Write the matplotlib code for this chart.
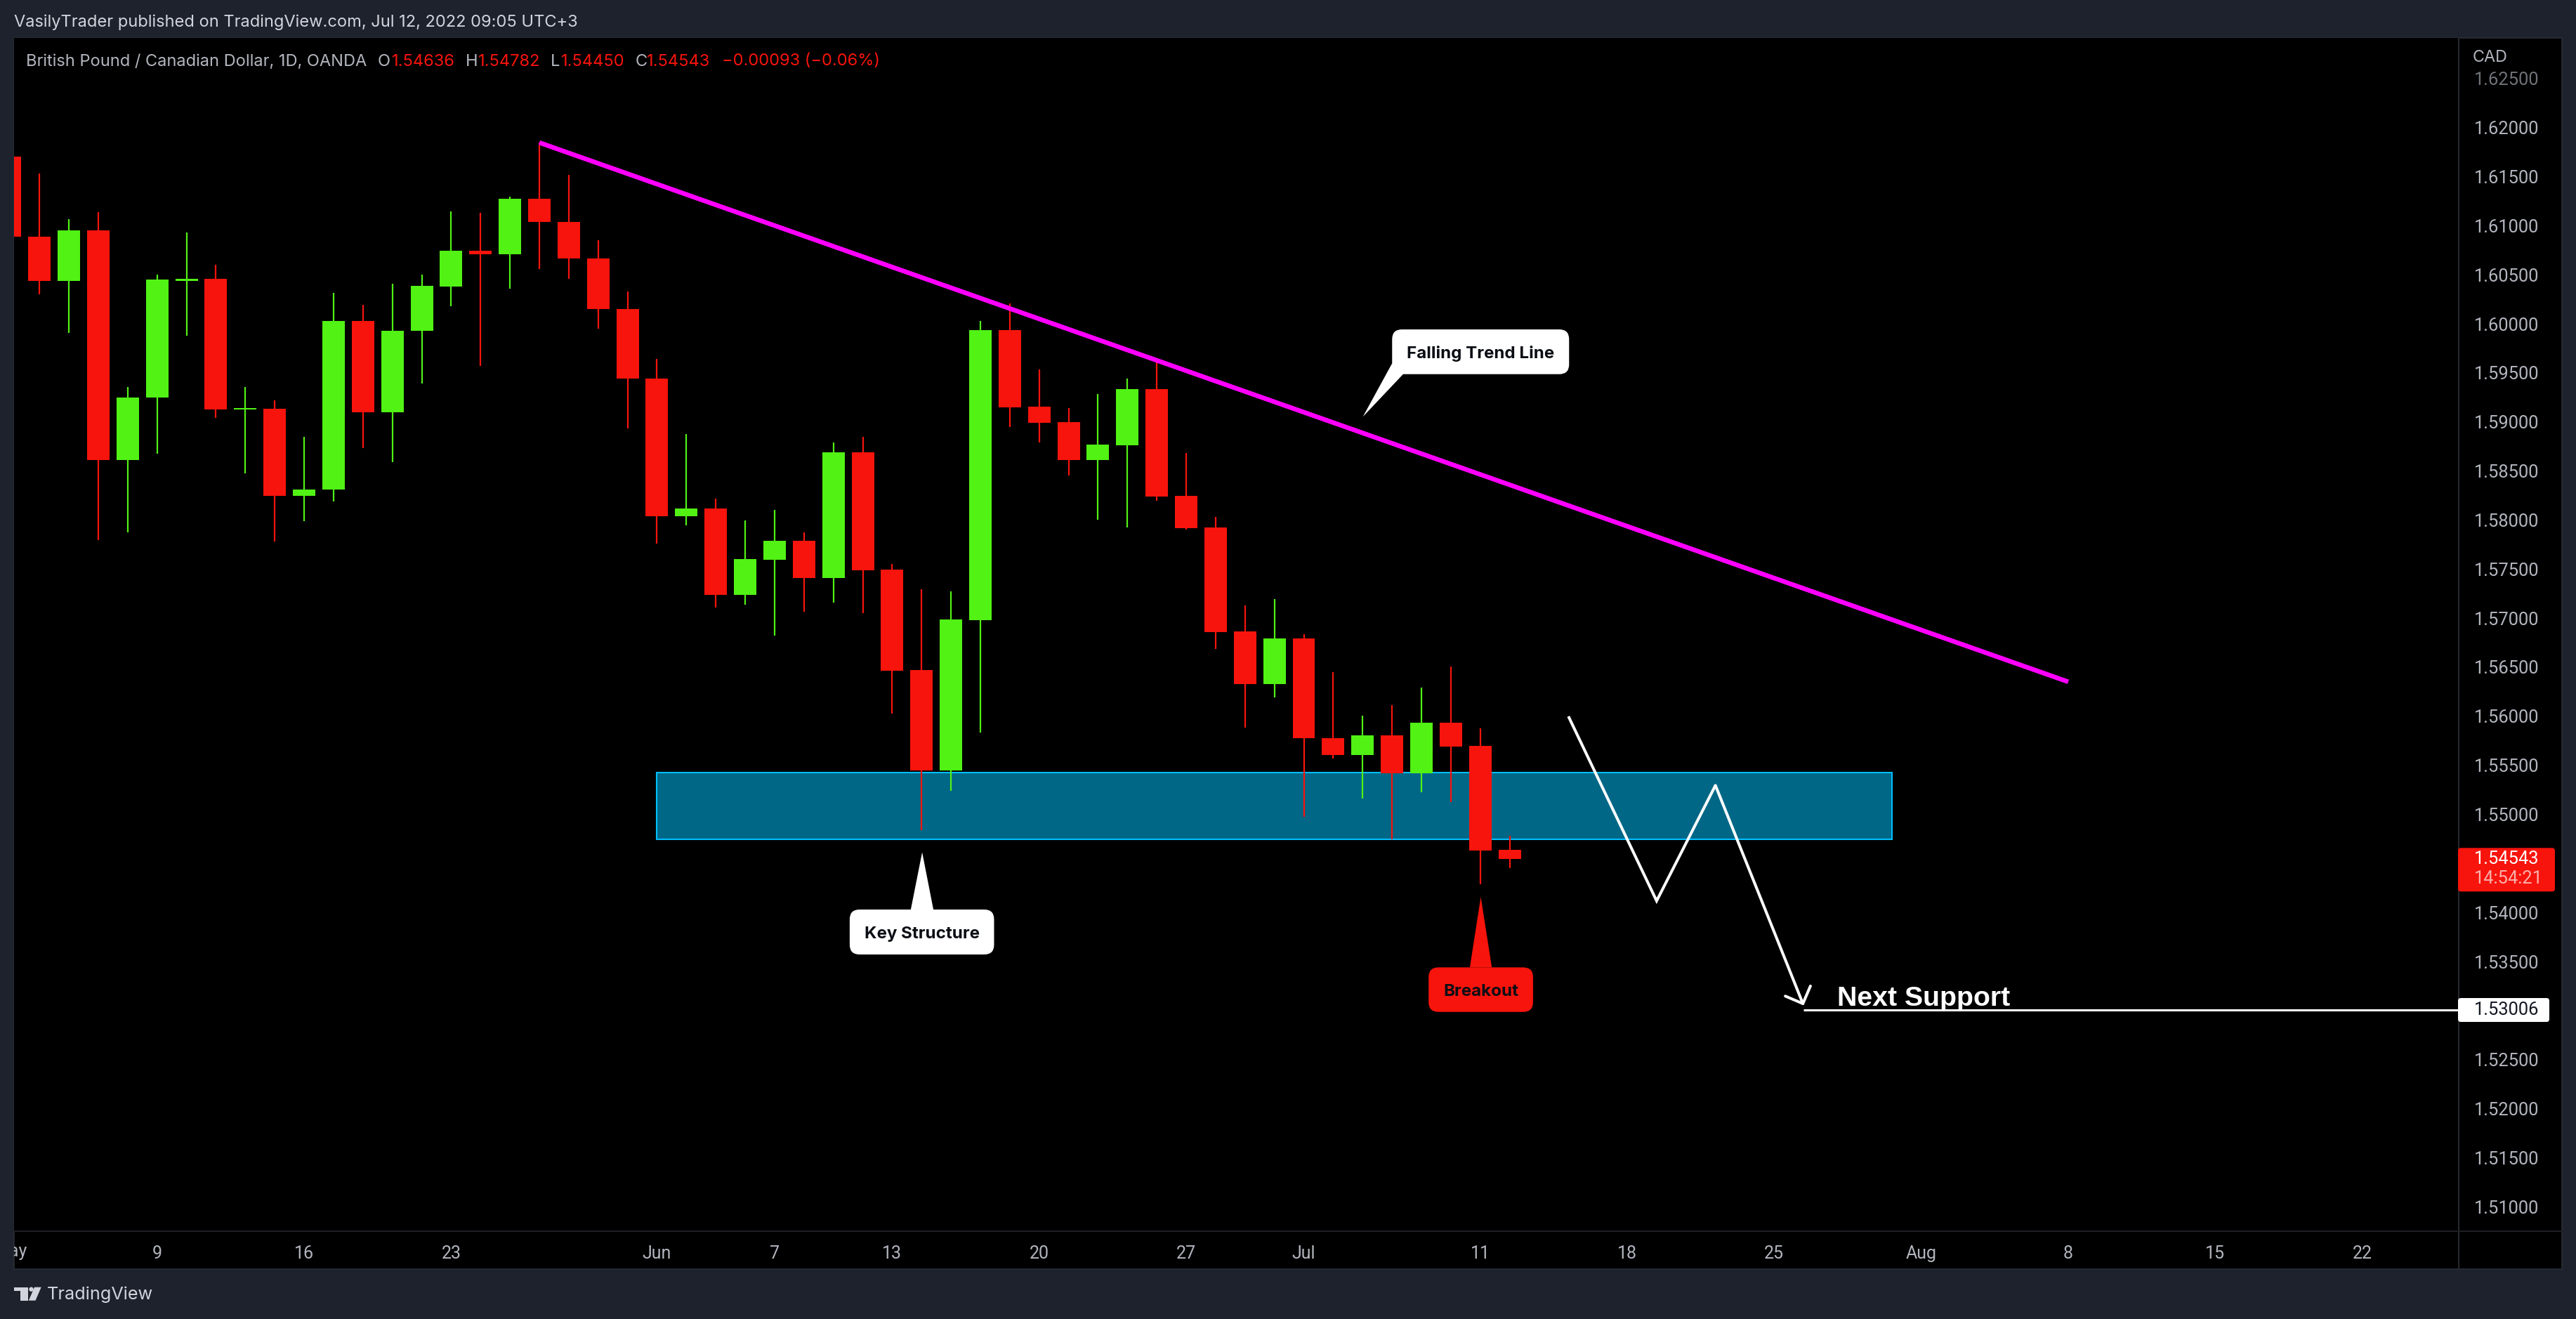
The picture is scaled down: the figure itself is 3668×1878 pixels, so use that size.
import matplotlib
matplotlib.use("Agg")
import matplotlib.pyplot as plt
import numpy as np
from matplotlib.patches import Rectangle, FancyBboxPatch, Polygon, Circle
from matplotlib.transforms import IdentityTransform, Bbox, TransformedBbox

W, H = 3668, 1878
FONT = ["Inter", "Roboto", "DejaVu Sans"]
NUM = ["Roboto", "DejaVu Sans"]
plt.rcParams["font.family"] = FONT

opens = [1.61704,1.60886,1.60440,1.60952,1.58615,1.59250,1.60440,1.60459,1.59126,1.59133,
         1.58249,1.58308,1.60028,1.59100,1.59926,1.60378,1.60744,1.60711,1.61273,1.61039,
         1.60667,1.60152,1.59443,1.58039,1.58117,1.57237,1.57595,1.57788,1.57409,1.58690,
         1.57495,1.56471,1.55448,1.56980,1.59936,1.59156,1.58998,1.58612,1.58762,1.59335,
         1.58247,1.57925,1.56864,1.56330,1.56793,1.55777,1.55608,1.55806,1.55416,1.55934,
         1.55697,1.54636]
highs = [1.61750,1.61532,1.61065,1.61138,1.59356,1.60503,1.60930,1.60601,1.59356,1.59221,
         1.58845,1.60316,1.60192,1.60408,1.60503,1.61145,1.61131,1.61295,1.61847,1.61518,
         1.60853,1.60331,1.59641,1.58876,1.58218,1.57996,1.58103,1.57874,1.58790,1.58848,
         1.57552,1.57294,1.57273,1.60029,1.60208,1.59535,1.59141,1.59285,1.59442,1.59614,
         1.58683,1.58032,1.57129,1.57193,1.56835,1.56448,1.56004,1.56113,1.56291,1.56506,
         1.55876,1.54782]
lows = [1.60750,1.60302,1.59904,1.57793,1.57877,1.58673,1.59882,1.59038,1.58472,1.57778,
        1.57986,1.58187,1.58731,1.58593,1.59389,1.60181,1.59568,1.60360,1.60561,1.60455,
        1.59947,1.58936,1.57760,1.57946,1.57108,1.57137,1.56822,1.57065,1.57158,1.57051,
        1.56027,1.54837,1.55237,1.55834,1.58948,1.58791,1.58454,1.58003,1.57925,1.58197,
        1.57903,1.56688,1.55886,1.56192,1.54978,1.55569,1.55163,1.54748,1.55227,1.55125,
        1.54291,1.54450]
closes = [1.60886,1.60440,1.60952,1.58615,1.59250,1.60451,1.60460,1.59129,1.59140,1.58249,
          1.58311,1.60028,1.59100,1.59929,1.60386,1.60744,1.60711,1.61273,1.61036,1.60663,
          1.60148,1.59440,1.58041,1.58117,1.57237,1.57602,1.57788,1.57409,1.58690,1.57488,
          1.56464,1.55448,1.56986,1.59936,1.59149,1.58991,1.58612,1.58769,1.59335,1.58239,
          1.57917,1.56857,1.56330,1.56793,1.55774,1.55608,1.55806,1.55416,1.55934,1.55691,
          1.54633,1.54543]

x_tick_pos = [0, 5, 10, 15, 22, 26, 30, 35, 40, 44, 50, 55, 60, 65, 70, 75, 80]
x_tick_labels = ["May","9","16","23","Jun","7","13","20","27","Jul","11","18","25","Aug","8","15","22"]
y_ticks = [1.625,1.62,1.615,1.61,1.605,1.60,1.595,1.59,1.585,1.58,1.575,1.57,1.565,1.56,1.555,
           1.55,1.54,1.535,1.525,1.52,1.515,1.51]

trend_x = [18, 70]
trend_y = [1.61847, 1.56351]
zone_x = [22, 64]
zone_y = [1.54748, 1.55426]
path_x = [53, 56, 58]
path_y = [1.55999, 1.54118, 1.55295]
arrow_tip = (61, 1.53052)
support_x0 = 61
support_price = 1.53006
last_price = 1.54543

RED = "#F7140C"
GREEN = "#51F214"
BG = "#1E222D"
EDGE = "#2A2E39"
TXT = "#B2B5BE"
PT = 0.72  # points per pixel at dpi 100
XLIM = (0.1338, 83.28)
YLIM = (1.50754, 1.62914)

fig = plt.figure(figsize=(W/100, H/100), dpi=100, facecolor=BG)

def pxt(x, y):
    return x/W, 1 - y/H

def ftext(x, y, s, **kw):
    kw.setdefault("va", "center")
    kw.setdefault("ha", "left")
    fx, fy = pxt(x, y)
    return fig.text(fx, fy, s, **kw)

# chart panel
fig.add_artist(Rectangle((20/W, 1-1807/H), (3648-20)/W, (1807-54)/H, transform=fig.transFigure,
                         facecolor="black", edgecolor=EDGE, linewidth=1.2, zorder=-5))

L, T, R, B = 20, 54, 3501, 1752.6
ax = fig.add_axes([L/W, 1-B/H, (R-L)/W, (B-T)/H], facecolor="black", zorder=0)
for s in ax.spines.values():
    s.set_visible(False)

idx = np.arange(len(opens))
opens_a, closes_a, highs_a, lows_a = map(np.array, (opens, closes, highs, lows))

# zone
ax.add_patch(Rectangle((zone_x[0], zone_y[0]), zone_x[1]-zone_x[0], zone_y[1]-zone_y[0],
                       facecolor="#006786", edgecolor="#00BFFF", linewidth=1.5, zorder=1))

colors = [GREEN if c >= o else RED for o, c in zip(opens, closes)]
ax.vlines(idx, lows_a, highs_a, colors=colors, linewidth=2.0*PT*1.1, zorder=2)
ax.bar(idx, np.abs(closes_a-opens_a), bottom=np.minimum(opens_a, closes_a), width=0.764,
       color=colors, linewidth=0, zorder=3)

# drawings
ax.plot(trend_x, trend_y, color="#FF00FF", linewidth=6.6*PT, solid_capstyle="butt", zorder=4)
ax.plot(path_x, path_y, color="white", linewidth=4*PT, solid_joinstyle="miter", solid_capstyle="butt", zorder=4)
ax.annotate("", xy=arrow_tip, xytext=(path_x[-1], path_y[-1]),
            arrowprops=dict(arrowstyle="->,head_length=%g,head_width=%g" % (19.3*PT, 19.3*PT),
                            color="white", lw=4*PT, shrinkA=0, shrinkB=0, mutation_scale=1), zorder=4)
ax.plot([support_x0, XLIM[1]], [support_price]*2, color="white", linewidth=3*PT,
        solid_capstyle="butt", zorder=4)
ax.text(62.15, 1.5305, "Next Support", color="white", fontsize=28.3, fontweight="bold",
        family=["Liberation Sans"], va="baseline", ha="left", zorder=5)

# axes ticks (the first date tick sits left of the view, so it is drawn separately and clipped)
ax.set_xticks(x_tick_pos[1:], x_tick_labels[1:])
ax.set_yticks(y_ticks, ["%.5f" % v for v in y_ticks])
ax.yaxis.tick_right()
ax.set_xlim(*XLIM)
ax.set_ylim(*YLIM)
ax.tick_params(axis="x", length=0, pad=15, labelsize=18, labelcolor=TXT, labelfontfamily="Roboto")
ax.tick_params(axis="y", length=0, pad=15.6, labelsize=18.4, labelcolor=TXT, labelfontfamily="Roboto")
ax.get_yticklabels()[0].set_color("#6F7278")
clip = TransformedBbox(Bbox([[20, 0], [3501, H]]), IdentityTransform())
first = ax.text(x_tick_pos[0], -(1782-B)/(B-T), x_tick_labels[0], transform=ax.get_xaxis_transform(),
                color=TXT, fontsize=18, family=NUM, ha="center", va="center")
first.set_clip_path(None)
first.set_clip_box(clip)
first.set_clip_on(True)

# separators
fig.add_artist(plt.Line2D([R/W, R/W], [1-1807/H, 1-54/H], color="#25282F", lw=1.5, zorder=5))
fig.add_artist(plt.Line2D([20/W, 3648/W], [1-B/H, 1-B/H], color="#1E1F24", lw=1.5, zorder=5))

idt = IdentityTransform()

def data_px(x, y):
    return ax.transData.transform((x, y))

def callout(tip, box, base, text, face, fsize=17.4):
    """tip is in data units; box (x0,y0,x1,y1) and base points are pixel offsets from the tip (y down)."""
    tx, ty = data_px(*tip)
    x0, y0, x1, y1 = box
    fig.add_artist(FancyBboxPatch((tx+x0+14, ty-y1+14), (x1-x0)-28, (y1-y0)-28,
                                  boxstyle="round,pad=14,rounding_size=14", facecolor=face,
                                  edgecolor="none", transform=idt, zorder=6))
    fig.add_artist(Polygon([(tx, ty)] + [(tx+a, ty-b) for a, b in base], closed=True, facecolor=face,
                           edgecolor="none", transform=idt, zorder=6))
    fig.text((tx+(x0+x1)/2)/W, (ty-(y0+y1)/2)/H, text, color="#0B0E14", fontsize=fsize, fontweight="bold",
             ha="center", va="center_baseline", zorder=7)

callout((46.01, 1.59053), (41.6, -124.3, 293.6, -60.6), [(41.6, -76), (57.3, -60.6)], "Falling Trend Line", "white")
callout((31.02, 1.54614), (-103.2, 81.6, 102.4, 145.6), [(-16.2, 81.6), (16, 81.6)], "Key Structure", "white")
callout((50.02, 1.54159), (-74.3, 100.4, 74.4, 163.8), [(-15.6, 100.4), (15.7, 100.4)], "Breakout", RED)

# price tags
def price_tag(y_center, h_top, h_bot, x1, color):
    fig.add_artist(FancyBboxPatch((3500+4, y_center-h_bot+4), x1-3500-8, h_top+h_bot-8,
                                  boxstyle="round,pad=4,rounding_size=4", facecolor=color,
                                  edgecolor="none", transform=idt, zorder=6))

_, yl = data_px(0, last_price)
price_tag(yl, 16, 46, 3638, RED)
fig.text(3522.7/W, yl/H, "%.5f" % last_price, color="white", fontsize=18.4, va="center", zorder=7, family=NUM)
fig.text(3522.7/W, (yl-27.5)/H, "14:54:21", color="#FBB0AC", fontsize=18.4, va="center", zorder=7, family=NUM)
_, ys = data_px(0, support_price)
price_tag(ys, 17, 17, 3630, "white")
fig.text(3522.7/W, ys/H, "%.5f" % support_price, color="#131722", fontsize=18.4, va="center", zorder=7, family=NUM)

# header and legend
ftext(20, 32, "VasilyTrader published on TradingView.com, Jul 12, 2022 09:05 UTC+3", color="#D1D4DC", fontsize=17)
ftext(36.6, 87.5, "British Pound / Canadian Dollar, 1D, OANDA", color=TXT, fontsize=17)
for x, s, c in [(538, "O", TXT), (558, "1.54636", RED), (662.5, "H", TXT), (681, "1.54782", RED),
                (784, "L", TXT), (799, "1.54450", RED), (904.5, "C", TXT), (921.4, "1.54543", RED),
                (1027.7, "\u22120.00093 (\u22120.06%)", RED)]:
    ftext(x, 87.5, s, color=c, fontsize=17)
ftext(3520.7, 82.5, "CAD", color=TXT, fontsize=16.8)

# footer logo
lc = "#D1D4DC"
def yf(y): return H - y
fig.add_artist(Polygon([(19.8, yf(1832.7)), (39.5, yf(1832.7)), (39.5, yf(1851.7)), (28.7, yf(1851.7)),
                        (28.7, yf(1838.3)), (19.8, yf(1838.3))], closed=True, facecolor=lc, edgecolor="none", transform=idt))
fig.add_artist(Circle((44.5, yf(1835.7)), 3.2, facecolor=lc, edgecolor="none", transform=idt))
fig.add_artist(Polygon([(49, yf(1832.7)), (58.7, yf(1832.7)), (50.5, yf(1851.7)), (40.8, yf(1851.7))],
                       closed=True, facecolor=lc, edgecolor="none", transform=idt))
ftext(67, 1843, "TradingView", color=lc, fontsize=18.2)

fig.savefig("out.png", dpi=100, facecolor=BG)
